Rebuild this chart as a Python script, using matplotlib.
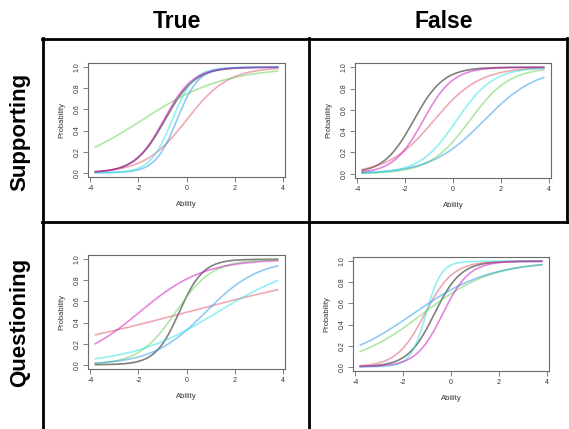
import numpy as np
import matplotlib
matplotlib.use("Agg")
import matplotlib.pyplot as plt
from matplotlib.lines import Line2D

plt.rcParams['font.family'] = ['Liberation Sans', 'DejaVu Sans']

# item parameters (discrimination a, difficulty b)
# order: black, red, green, blue, cyan, magenta
sup_true_a = [1.6, 1.15, 0.58, 2.2, 2.2, 1.65]
sup_true_b = [-0.9, 0.0, -1.85, -0.4, -0.6, -0.95]
sup_false_a = [1.6, 1.05, 1.2, 0.9, 1.3, 1.6]
sup_false_b = [-1.65, -0.8, 0.7, 1.3, 0.15, -1.25]
que_true_a = [2.0, 0.24, 1.3, 0.9, 0.55, 0.75]
que_true_b = [-0.3, 0.05, -0.45, 0.8, 1.3, -1.95]
que_false_a = [1.8, 1.7, 0.68, 0.62, 3.1, 1.8]
que_false_b = [-0.7, -1.1, -1.2, -1.6, -1.05, -0.35]

item_colors = ['#000000', '#DF536B', '#61D04F', '#2297E6', '#28E2E5', '#CD0BBC']
col_titles = ['True', 'False']
row_titles = ['Supporting', 'Questioning']
x_ticks = [-4, -2, 0, 2, 4]
y_ticks = [0.0, 0.2, 0.4, 0.6, 0.8, 1.0]

W, H = 569, 429
fig = plt.figure(figsize=(W / 100, H / 100), dpi=100)

def px_axes(x0, y0, x1, y1):
    return fig.add_axes([x0 / W, 1 - y1 / H, (x1 - x0) / W, (y1 - y0) / H])

def icc_panel(ax, a_vals, b_vals):
    theta = np.linspace(-3.8, 3.8, 300)
    for a, b, c in zip(a_vals, b_vals, item_colors):
        ax.plot(theta, 1 / (1 + np.exp(-a * (theta - b))), color=c, alpha=0.5, lw=1.2)
    ax.set_xlim(-4.104, 4.104)
    ax.set_ylim(-0.04, 1.04)
    ax.set_xticks(x_ticks)
    ax.set_xticklabels([str(t) for t in x_ticks])
    ax.set_yticks(y_ticks)
    ax.set_yticklabels(['%.1f' % t for t in y_ticks], rotation=90, va='center')
    for s in ax.spines.values():
        s.set_color('#6a6a6a')
        s.set_linewidth(0.8)
    ax.tick_params(length=3.5, width=0.6, color='#6a6a6a', labelsize=5, labelcolor='#333333', pad=2)
    ax.set_xlabel('Ability', fontsize=5.5, color='#333333', labelpad=7)
    ax.set_ylabel('Probability', fontsize=5.5, color='#333333', labelpad=6)

icc_panel(px_axes(88, 63, 285, 177), sup_true_a, sup_true_b)
icc_panel(px_axes(355, 63, 551, 178), sup_false_a, sup_false_b)
icc_panel(px_axes(88, 255, 285, 369), que_true_a, que_true_b)
icc_panel(px_axes(353, 257, 549, 371), que_false_a, que_false_b)

# column / row headers
fig.text(177 / W, 1 - 21 / H, col_titles[0], fontsize=16.5, fontweight='bold', ha='center', va='center')
fig.text(444 / W, 1 - 21 / H, col_titles[1], fontsize=16.5, fontweight='bold', ha='center', va='center')
fig.text(20 / W, 1 - 132 / H, row_titles[0], fontsize=16, fontweight='bold', rotation=90, ha='center', va='center')
fig.text(20 / W, 1 - 322 / H, row_titles[1], fontsize=16, fontweight='bold', rotation=90, ha='center', va='center')

# grid borders
def px_line(x0, y0, x1, y1):
    fig.add_artist(Line2D([x0 / W, x1 / W], [1 - y0 / H, 1 - y1 / H], color='black', lw=2.0))

px_line(42, 38.5, W, 38.5)
px_line(42, 222, W, 222)
px_line(43, 38, 43, H)
px_line(309, 38, 309, H)
px_line(567, 38, 567, 222)

fig.savefig('out.png', dpi=100)
